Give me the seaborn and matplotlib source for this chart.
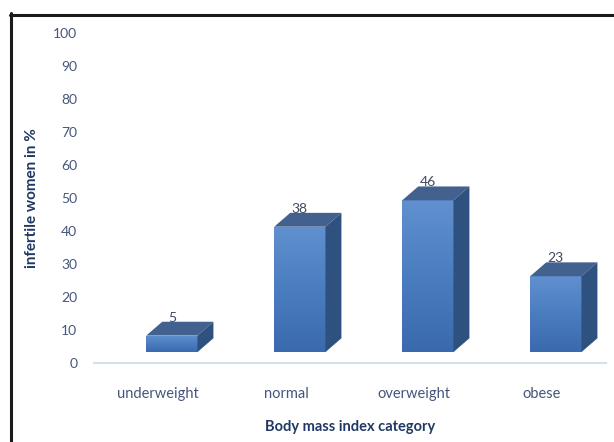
import numpy as np
import pandas as pd
import seaborn as sns
import matplotlib.pyplot as plt
from matplotlib.patches import Polygon
from matplotlib.lines import Line2D
from matplotlib.colors import LinearSegmentedColormap

# Share of infertile women per BMI category
categories = ["underweight", "normal", "overweight", "obese"]
percent = [5, 38, 46, 23]
yticks = list(range(0, 101, 10))

sns.set_theme(style="white")
plt.rcParams["font.family"] = ["Lato", "DejaVu Sans"]

W, H = 614, 442
fig = plt.figure(figsize=(W / 100, H / 100), dpi=100)
fig.patch.set_facecolor("white")

ax_left, ax_right = 94, 606
ax_bottom, ax_top = 363, 33
ax_w = ax_right - ax_left
ax = fig.add_axes([ax_left / W, 1 - ax_bottom / H,
                   ax_w / W, (ax_bottom - ax_top) / H])

df = pd.DataFrame({"category": categories, "percent": percent})
bar_w = 0.40
sns.barplot(data=df, x="category", y="percent", ax=ax, width=bar_w,
            color="#4f81c3", saturation=1, linewidth=0, errorbar=None)

# pseudo-3D geometry (data units)
base = 3.3          # front face sits slightly above the floor
shift = 0.108       # front face offset to the right of the category centre
dx, dy = 0.125, 4.2  # depth of the box

front_cmap = LinearSegmentedColormap.from_list(
    "front", ["#3a6aad", "#4a7dc0", "#6090cf"])
grad = np.linspace(0, 1, 256).reshape(-1, 1)

for patch, val in zip(ax.patches, percent):
    x0 = patch.get_x() + shift
    w = patch.get_width()
    h = patch.get_height()
    patch.set_x(x0)
    patch.set_y(base)
    patch.set_zorder(2)
    y1 = base + h
    im = ax.imshow(grad, extent=[x0, x0 + w, base, y1], origin="lower",
                   aspect="auto", cmap=front_cmap, zorder=3)
    im.set_clip_path(patch)
    top = Polygon([(x0, y1), (x0 + w, y1), (x0 + w + dx, y1 + dy),
                   (x0 + dx, y1 + dy)], closed=True,
                  facecolor="#42618f", edgecolor="none", zorder=3)
    side = Polygon([(x0 + w, base), (x0 + w + dx, base + dy),
                    (x0 + w + dx, y1 + dy), (x0 + w, y1)], closed=True,
                   facecolor="#2f5180", edgecolor="none", zorder=3)
    ax.add_patch(top)
    ax.add_patch(side)
    ax.text(x0 + w / 2, y1 + dy - 0.6, f"{val}", ha="center", va="bottom",
            fontsize=10, color="#3f4a5f", zorder=4)

ax.set_xlim(-0.5, len(categories) - 0.5)
ax.set_ylim(0, 100)
ax.set_yticks(yticks)
ax.set_yticklabels([str(t) for t in yticks])

for s in ["top", "right", "left"]:
    ax.spines[s].set_visible(False)
ax.spines["bottom"].set_color("#d6dfec")
ax.spines["bottom"].set_linewidth(1.5)
ax.tick_params(axis="y", length=0, pad=12, labelsize=10, labelcolor="#46557a")
ax.tick_params(axis="x", length=0, pad=17, labelsize=10.5, labelcolor="#46557a")
ax.grid(False)
ax.set_facecolor("white")

ax.set_xlabel("Body mass index category", fontsize=10.5, fontweight="bold",
              color="#1f3864", labelpad=14)
ax.set_ylabel("infertile women in %", fontsize=11, fontweight="bold",
              color="#1f3864")
ax.yaxis.set_label_coords((39 - ax_left) / ax_w, 0.5)

# frame lines at the left and top of the figure
fig.add_artist(Line2D([11 / W, 11 / W], [0, 1 - 13 / H], color="#1a1a1a",
                      linewidth=2.2, transform=fig.transFigure))
fig.add_artist(Line2D([10 / W, 1], [1 - 14.5 / H, 1 - 14.5 / H],
                      color="#1a1a1a", linewidth=2.2,
                      transform=fig.transFigure))

fig.savefig("out.png", dpi=100, facecolor="white")
